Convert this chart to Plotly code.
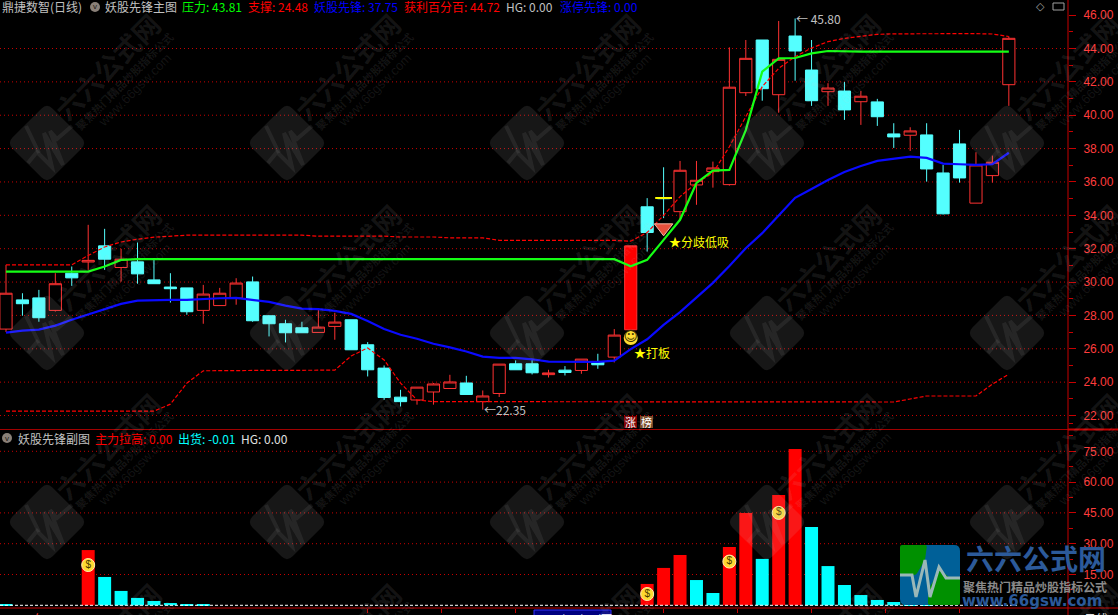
import plotly.graph_objects as go

# ---------- data ----------
candle_open = [27.18,28.93,29.05,28.30,30.53,31.20,32.17,30.87,31.21,30.13,29.70,29.65,28.30,28.59,29.04,30.01,27.98,27.50,27.26,26.98,27.34,27.74,26.24,24.84,23.10,22.93,23.41,23.62,23.95,22.83,23.32,25.10,25.10,24.45,24.72,24.70,25.22,25.50,None,34.51,35.05,34.22,35.82,36.62,35.84,41.35,44.51,41.23,44.75,42.71,41.41,41.45,40.81,40.80,38.88,38.80,38.82,36.54,38.28,34.73,36.38,41.83]
candle_high = [31.03,29.33,29.53,30.53,30.93,33.43,33.19,31.99,32.37,31.33,30.53,29.65,29.83,29.65,30.23,30.33,28.00,27.74,27.62,28.34,28.16,27.74,26.40,25.00,23.54,23.70,23.95,24.44,24.38,23.50,25.08,25.30,25.38,24.74,24.96,25.38,25.70,27.18,None,35.03,36.88,37.26,37.26,37.22,44.07,44.51,44.51,45.65,45.80,44.51,41.92,42.00,41.45,40.98,39.52,39.28,39.52,37.02,39.12,37.78,37.58,44.72]
candle_low = [27.00,27.98,27.62,28.23,29.77,30.73,30.73,30.03,29.90,29.90,28.77,28.04,27.50,28.59,28.64,27.62,26.74,26.38,26.96,26.98,26.54,25.94,24.34,22.94,22.54,22.65,22.65,23.62,23.26,22.35,23.11,24.74,24.46,24.28,24.40,24.50,24.80,25.18,None,31.83,33.83,33.73,34.63,35.66,35.78,41.15,40.87,40.15,42.07,40.56,40.56,39.72,39.42,39.36,38.04,37.86,36.02,34.05,35.96,34.73,35.96,40.56]
candle_close = [29.33,28.70,27.86,29.90,30.25,31.30,31.37,31.37,30.49,29.90,29.60,28.22,29.28,29.33,29.94,27.68,27.50,26.96,26.96,27.30,27.60,25.94,24.74,23.08,22.83,23.70,23.89,24.01,23.26,23.17,25.08,24.74,24.56,24.55,24.58,25.38,25.04,26.82,None,32.97,35.00,36.70,36.10,36.84,41.68,43.41,41.59,43.35,43.85,40.87,41.63,40.32,41.14,39.91,38.70,39.06,36.78,34.09,36.24,37.02,37.18,44.61]
limit_idx = [38]
limit_open = [27.14]
limit_high = [32.17]
limit_low = [27.14]
limit_close = [32.17]

pressure = [30.63,30.63,30.63,30.63,30.63,30.63,30.93,31.33,31.37,31.37,31.37,31.37,31.37,31.37,31.37,31.37,31.37,31.37,31.37,31.37,31.37,31.37,31.37,31.37,31.37,31.37,31.37,31.37,31.37,31.37,31.37,31.37,31.37,31.37,31.37,31.37,31.37,31.37,30.95,31.33,32.53,33.73,35.94,36.68,36.72,39.11,42.61,43.41,43.43,43.71,43.85,43.81,43.81,43.81,43.81,43.81,43.81,43.81,43.81,43.81,43.81,43.81]
pioneer = [26.97,27.09,27.15,27.39,27.74,28.05,28.39,28.69,28.89,28.93,28.93,28.93,28.99,29.03,29.05,28.93,28.81,28.59,28.41,28.38,28.27,28.09,27.67,27.19,26.84,26.60,26.30,26.08,25.84,25.53,25.45,25.45,25.37,25.23,25.21,25.23,25.21,25.29,25.98,26.57,27.43,28.20,29.05,29.95,30.96,32.03,32.93,34.00,35.05,35.58,36.12,36.60,36.96,37.26,37.38,37.52,37.44,37.10,37.06,37.02,37.06,37.75]
profit = [31.03,31.03,31.03,31.03,31.03,31.59,32.10,32.40,32.57,32.69,32.77,32.81,32.81,32.81,32.81,32.81,32.81,32.81,32.81,32.75,32.75,32.75,32.75,32.75,32.70,32.70,32.70,32.65,32.65,32.65,32.50,32.50,32.50,32.50,32.50,32.50,32.50,32.50,32.45,32.97,34.00,35.12,35.94,36.54,38.11,39.91,41.71,42.81,43.51,44.03,44.41,44.61,44.75,44.85,44.88,44.89,44.89,44.89,44.89,44.89,44.87,44.72]
support = [22.26,22.26,22.26,22.26,22.26,22.26,22.26,22.26,22.26,22.26,22.68,23.94,24.68,24.70,24.70,24.70,24.70,24.70,24.72,24.72,24.72,25.57,26.05,25.33,23.94,22.93,22.83,22.83,22.83,22.83,22.83,22.83,22.83,22.83,22.83,22.83,22.83,22.83,22.83,22.83,22.83,22.83,22.83,22.83,22.83,22.83,22.83,22.83,22.83,22.83,22.81,22.81,22.81,22.81,22.81,22.99,23.17,23.17,23.17,23.17,23.88,24.48]

lift_idx = [5,39,40,41,44,45,47,48]
lift_vals = [26.9,10.4,18.2,24.5,28.4,45.0,53.7,76.1]
ship_idx = [0,6,7,8,9,10,11,12,42,43,46,49,50,51,52,53,54,55,56]
ship_vals = [0.3,13.8,7.0,3.6,2.1,1.1,0.6,0.6,12.3,6.0,22.6,38.1,19.1,9.9,5.0,2.6,1.6,0.8,0.4]
bag_idx = [5,39,44,47]
bag_vals = [19.6,5.5,21.3,45.0]

price_ticks = [22,24,26,28,30,32,34,36,38,40,42,44,46]
price_minor = [21.5,23,25,27,29,31,33,35,37,39,41,43,45]
price_grid = [22,24,26,28,30,32,34,36,38,40,42,44]
vol_ticks = [15,30,45,60,75]
vol_minor = [7.5,22.5,37.5,52.5,67.5,82.5]
time_ticks = [22,26.5,31,40,44.5,49,53.5,58]

# ---------- page geometry ----------
W, H = 1118, 615
AX = 1068
def xp(v): return v / W
def yp(v): return 1 - v / H

RED = "#ff0000"
AXRED = "#c80000"
LABEL = "#ff3c3c"
CYAN = "#54ffff"
CJK = "Noto Sans CJK SC"
LAT = "Liberation Sans"
x_all = list(range(len(candle_open)))

fig = go.Figure()
fig.add_trace(go.Candlestick(
    x=x_all, open=candle_open, high=candle_high, low=candle_low, close=candle_close,
    xaxis="x", yaxis="y", whiskerwidth=0, showlegend=False,
    increasing=dict(line=dict(color="#ff3232", width=1), fillcolor="#000000"),
    decreasing=dict(line=dict(color=CYAN, width=1), fillcolor=CYAN)))
fig.add_trace(go.Candlestick(
    x=limit_idx, open=limit_open, high=limit_high, low=limit_low, close=limit_close,
    xaxis="x", yaxis="y", whiskerwidth=0, showlegend=False,
    increasing=dict(line=dict(color="#ff3232", width=1), fillcolor=RED)))

def line(y, color, width, dash="solid"):
    fig.add_trace(go.Scatter(x=x_all, y=y, mode="lines", xaxis="x", yaxis="y",
                             showlegend=False, line=dict(color=color, width=width, dash=dash)))
line(profit, RED, 1.2, "4px,2px")
line(support, RED, 1.2, "4px,2px")
line(pioneer, "#0a0aff", 2.2)
line(pressure, "#14ff14", 2.2)

# yellow doji tick, smiley, gem
fig.add_trace(go.Scatter(x=[40], y=[35.04], mode="markers", xaxis="x", yaxis="y", showlegend=False,
                         marker=dict(symbol="line-ew", size=12, line=dict(color="#ffff00", width=2))))
fig.add_trace(go.Scatter(x=[40], y=[33.25], mode="markers", xaxis="x", yaxis="y", showlegend=False,
                         marker=dict(symbol="triangle-down", size=16, color="#e8503c",
                                     line=dict(color="#f4b8a8", width=1))))
fig.add_trace(go.Scatter(x=[38], y=[26.65], mode="markers+text", xaxis="x", yaxis="y", showlegend=False,
                         marker=dict(symbol="circle", size=14, color="#ffdc32"),
                         text=["☺"], textposition="middle center",
                         textfont=dict(family="DejaVu Sans", size=14, color="#403000")))

# sub pane
fig.add_trace(go.Bar(x=lift_idx, y=lift_vals, width=0.79, xaxis="x2", yaxis="y2", showlegend=False,
                     marker=dict(color=RED, line=dict(width=0))))
fig.add_trace(go.Bar(x=ship_idx, y=ship_vals, width=0.79, xaxis="x2", yaxis="y2", showlegend=False,
                     marker=dict(color="#00ffff", line=dict(width=0))))
fig.add_trace(go.Scatter(x=bag_idx, y=bag_vals, mode="markers+text", xaxis="x2", yaxis="y2", showlegend=False,
                         marker=dict(symbol="circle", size=13, color="#ffd830", line=dict(color="#fff0b0", width=1)),
                         text=["$"] * len(bag_idx), textposition="middle center",
                         textfont=dict(family=LAT, size=10, color="#4a3a00")))

# ---------- shapes ----------
shapes = []
for g in price_grid:
    shapes.append(dict(type="line", xref="paper", yref="y", x0=0, x1=xp(AX), y0=g, y1=g, layer="below",
                       line=dict(color="#c80000", width=1, dash="1px,3px")))
for g in vol_ticks:
    shapes.append(dict(type="line", xref="paper", yref="y2", x0=0, x1=xp(AX), y0=g, y1=g, layer="below",
                       line=dict(color="#c80000", width=1, dash="1px,3px")))
shapes.append(dict(type="line", xref="x2", yref="y2", x0=-0.365, x1=61.5, y0=0, y1=0, layer="above",
                   line=dict(color="#ffffff", width=1, dash="3px,2px")))
def pline(x0, y0, x1, y1, color=AXRED, width=1):
    shapes.append(dict(type="line", xref="paper", yref="paper", x0=xp(x0), x1=xp(x1), y0=yp(y0), y1=yp(y1),
                       layer="above", line=dict(color=color, width=width)))
pline(0, 429.5, AX, 429.5, "#a00000")
pline(AX, 429.5, W, 429.5, AXRED, 2)
pline(AX, 0, AX, H, AXRED, 1)
pline(0, 608, W, 608, AXRED, 1)

def rounded(points, rad):
    n = len(points)
    d = ""
    for i in range(n):
        px, py = points[i]
        ax, ay = points[i - 1]
        bx, by = points[(i + 1) % n]
        la = ((ax - px) ** 2 + (ay - py) ** 2) ** 0.5
        lb = ((bx - px) ** 2 + (by - py) ** 2) ** 0.5
        s = (px + (ax - px) * rad / la, py + (ay - py) * rad / la)
        e = (px + (bx - px) * rad / lb, py + (by - py) * rad / lb)
        d += ("M" if i == 0 else "L") + f"{xp(s[0]):.5f},{yp(s[1]):.5f}"
        d += f"Q{xp(px):.5f},{yp(py):.5f} {xp(e[0]):.5f},{yp(e[1]):.5f}"
    return d + "Z"

def poly(points):
    return "M" + "L".join(f"{xp(a):.5f},{yp(b):.5f}" for a, b in points)

WM = "rgba(205,205,205,0.11)"
WMT = "rgba(205,205,205,0.10)"
pulse = [(25, -17), (10, -4), (3, -12), (16, 22), (-3, -10), (5, 24), (-10, 9), (-19, 20)]
spike = [(-21, -17), (-8, 10)]
annos = []
def txt(x, y, s, color, size=12, family=CJK, anchor="left", angle=0, **kw):
    annos.append(dict(xref="paper", yref="paper", x=xp(x), y=yp(y), text=s, showarrow=False,
                      xanchor=anchor, yanchor="middle", textangle=angle,
                      font=dict(family=family, size=size, color=color), **kw))

for cy in [143, 333, 522, 712]:
    for cx in [47, 287, 527, 767, 1007]:
        if cy < 700:
            shapes.append(dict(type="path", xref="paper", yref="paper", layer="above", line=dict(width=0),
                               fillcolor=WM,
                               path=rounded([(cx, cy - 40), (cx + 40, cy), (cx, cy + 40), (cx - 40, cy)], 8)))
            shapes.append(dict(type="path", xref="paper", yref="paper", layer="above",
                               line=dict(color="rgba(205,205,205,0.09)", width=4),
                               path=poly([(cx + a, cy + b) for a, b in pulse])))
            shapes.append(dict(type="path", xref="paper", yref="paper", layer="above",
                               line=dict(color="rgba(205,205,205,0.09)", width=4),
                               path=poly([(cx + a, cy + b) for a, b in spike])))
        txt(cx + 60, cy - 76, "<b>六六公式网</b>", WMT, 27, CJK, "center", -45)
        txt(cx + 77, cy - 62, "<b>聚焦热门精品炒股指标公式</b>", WMT, 11, CJK, "center", -45)
        txt(cx + 87, cy - 53, "www.66gsw.com", WMT, 13, LAT, "center", -45)

# logo at the lower right
LX0, LX1, LY0, LY1 = 900, 960, 545, 605
shapes.append(dict(type="path", xref="paper", yref="paper", layer="above", line=dict(width=0), fillcolor="#006098",
                   path=rounded([(LX0, LY0), (LX1, LY0), (LX1, LY1), (LX0, LY1)], 6)))
shapes.append(dict(type="path", xref="paper", yref="paper", layer="above", line=dict(width=0), fillcolor="#009000",
                   path=rounded([(LX0, LY0), (927, LY0), (925, 560), (916, 575), (LX0, 575)], 2)))
shapes.append(dict(type="path", xref="paper", yref="paper", layer="above", line=dict(width=0), fillcolor="#009000",
                   path=rounded([(928, 590), (940, 570), (950, 578), (LX1, 578), (LX1, LY1), (928, LY1)], 2)))
shapes.append(dict(type="path", xref="paper", yref="paper", layer="above",
                   line=dict(color="#9ab8b8", width=3),
                   path=poly([(LX0, 575), (912, 575), (916, 597), (925, 560), (930, 597), (939, 567), (946, 578), (LX1, 578)])))

# ---------- text ----------
y0 = 7
txt(0, y0, "鼎捷数智(日线)", "#c0c0c0")
shapes.append(dict(type="circle", xref="paper", yref="paper", layer="above", x0=xp(90), x1=xp(100), y0=yp(2), y1=yp(12),
                   fillcolor="#8a8078", line=dict(width=0)))
txt(95, y0, "v", "#201810", 8, LAT, "center")
txt(103, y0, "妖股先锋主图", "#c0c0c0")
txt(180, y0, "压力: 43.81", "#00ff00")
txt(246, y0, "支撑: 24.48", RED)
txt(312, y0, "妖股先锋: 37.75", "#0000ff")
txt(402, y0, "获利百分百: 44.72", RED)
txt(504, y0, "HG: 0.00", "#c0c0c0")
txt(558, y0, "涨停先锋: 0.00", "#0000ff")
txt(1040, y0, "◇", "#a0a0a0", 11, "DejaVu Sans", "center")
shapes.append(dict(type="rect", xref="paper", yref="paper", layer="above", x0=xp(1053), x1=xp(1064), y0=yp(3), y1=yp(10),
                   line=dict(color="#a0a0a0", width=1)))

y1 = 438
shapes.append(dict(type="circle", xref="paper", yref="paper", layer="above", x0=xp(2), x1=xp(12), y0=yp(433), y1=yp(443),
                   fillcolor="#8a8078", line=dict(width=0)))
txt(7, y1, "v", "#201810", 8, LAT, "center")
txt(16, y1, "妖股先锋副图", "#c0c0c0")
txt(93, y1, "主力拉高: 0.00", RED)
txt(176, y1, "出货: -0.01", "#00ffff")
txt(239, y1, "HG: 0.00", "#e0e0e0")

def data_txt(x, y, s, color, anchor="left"):
    annos.append(dict(xref="x", yref="y", x=x, y=y, text=s, showarrow=False, xanchor=anchor, yanchor="middle",
                      font=dict(family=CJK, size=12, color=color)))
data_txt(47.95, 45.80, "← 45.80", "#c0c0c0")
data_txt(28.95, 22.35, "←22.35", "#c0c0c0")
data_txt(38.1, 25.75, "★打板", "#ffff00")
data_txt(40.2, 32.42, "★分歧低吸", "#ffff00")

# limit-up / ranking badges
for xc, ch, bg in [(630.5, "涨", "#800000"), (646.5, "榜", "#7a4a28")]:
    shapes.append(dict(type="rect", xref="paper", yref="paper", layer="above", x0=xp(xc - 6.5), x1=xp(xc + 6.5),
                       y0=yp(416), y1=yp(428), fillcolor=bg, line=dict(width=0)))
    txt(xc, 422, ch, "#ffffff", 11, CJK, "center")

# time axis labels (partly below the window, as in the reference)
for x, s in [(5, "2024年"), (369, "1"), (665, "2"), (964, "3")]:
    annos.append(dict(xref="paper", yref="paper", x=xp(x), y=yp(608), text=s, showarrow=False, xanchor="left",
                      yanchor="top", font=dict(family=CJK, size=12, color=LABEL)))
shapes.append(dict(type="rect", xref="paper", yref="paper", layer="above", x0=xp(534), x1=xp(611), y0=yp(610), y1=yp(630),
                   fillcolor="#000080", line=dict(color="#3030ff", width=1)))
annos.append(dict(xref="paper", yref="paper", x=xp(572), y=yp(608), text="2025/01/16/四", showarrow=False,
                  xanchor="center", yanchor="top", font=dict(family=CJK, size=12, color="#ffffff")))
annos.append(dict(xref="paper", yref="paper", x=xp(1096), y=yp(608), text="日线", showarrow=False,
                  xanchor="center", yanchor="top", font=dict(family=CJK, size=12, color="#e0e0e0")))

# logo text
txt(1036, 558, "<b>六六公式网</b>", "#2c5a9a", 28, CJK, "center")
txt(1035, 586, "<b>聚焦热门精品炒股指标公式</b>", "#8a8a8a", 12, CJK, "center")
txt(1032, 601, "<b>www.66gsw.com</b>", "#2c5a9a", 15, "DejaVu Sans", "center")

px_per_unit = (415.5 - 48.5) / 22
top_price = 44 + 48.5 / px_per_unit
bot_price = 22 - (429 - 415.5) / px_per_unit
vol_scale = (605.3 - 451.3) / 75
vol_top = 75 + (451.3 - 431) / vol_scale
vol_bot = -(608 - 605.3) / vol_scale
xr = [-0.365, (AX - 6) / 16.44]

yaxis_common = dict(side="right", showgrid=False, zeroline=False, showline=False, ticks="outside", ticklen=7,
                    tickcolor=AXRED, tickwidth=1, tickfont=dict(family=LAT, size=12, color=LABEL),
                    tickformat=".2f", ticklabelstandoff=5)
fig.update_layout(
    width=W, height=H, margin=dict(l=0, r=0, t=0, b=0), paper_bgcolor="#000000", plot_bgcolor="#000000",
    showlegend=False, boxgap=0.26, boxgroupgap=0, barmode="overlay", hovermode=False,
    xaxis=dict(domain=[0, xp(AX)], range=xr, anchor="y", showgrid=False, zeroline=False, showticklabels=False,
               ticks="", rangeslider=dict(visible=False), showline=False),
    yaxis=dict(domain=[yp(429), 1], range=[bot_price, top_price], anchor="x", tickvals=price_ticks,
               minor=dict(tickvals=price_minor, ticks="outside", ticklen=4, tickcolor=AXRED, showgrid=False),
               **yaxis_common),
    xaxis2=dict(domain=[0, xp(AX)], range=xr, anchor="y2", showgrid=False, zeroline=False, showticklabels=False,
                ticks="outside", ticklen=4, tickcolor=AXRED, tickvals=time_ticks, showline=False,
                rangeslider=dict(visible=False)),
    yaxis2=dict(domain=[yp(608), yp(431)], range=[vol_bot, vol_top], anchor="x2", tickvals=vol_ticks,
                minor=dict(tickvals=vol_minor, ticks="outside", ticklen=4, tickcolor=AXRED, showgrid=False),
                **yaxis_common),
    shapes=shapes, annotations=annos,
)

fig.write_html("out.html", config=dict(displayModeBar=False),
               post_script="document.body.style.margin='0';document.documentElement.style.overflow='hidden';")
